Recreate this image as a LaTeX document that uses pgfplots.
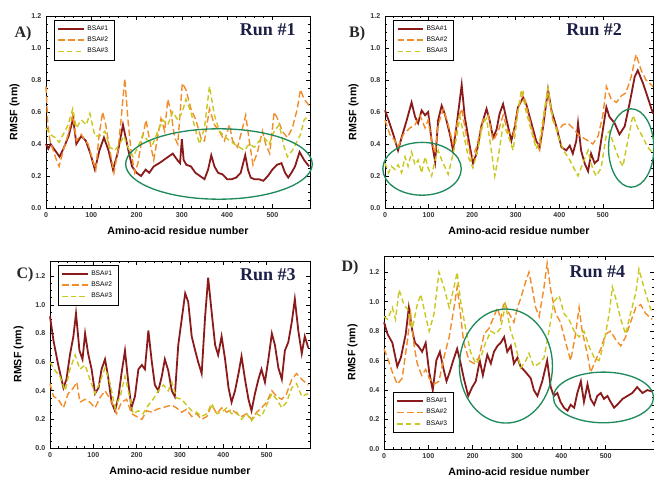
\documentclass[border=0pt]{standalone}
\usepackage{fontspec}
\setmainfont{Liberation Sans}
\newfontfamily\runfont{Liberation Serif}
\usepackage{pgfplots}
\pgfplotsset{compat=1.18}
\definecolor{bsaone}{HTML}{8B1A1A}
\definecolor{bsatwo}{HTML}{F28C28}
\definecolor{bsathree}{HTML}{C8C81E}
\definecolor{ring}{HTML}{1F8A5B}
\definecolor{runtxt}{HTML}{1B1F45}

\pgfplotsset{
  rmsf/.style={
    scale only axis, anchor=south west, xmin=0, ymin=0,
    xtick={0,100,200,300,400,500},
    ytick={0,0.2,0.4,0.6,0.8,1.0,1.2},
    minor x tick num=4, minor y tick num=3,
    tick align=inside, major tick length=3pt, minor tick length=1.5pt,
    tick style={black, line width=0.4pt},
    axis line style={line width=0.6pt},
    /pgf/number format/assume math mode=true,
    ticklabel style={font=\fontsize{5.3}{6}\selectfont\bfseries, text=black!80},
    yticklabel style={/pgf/number format/.cd, fixed, fixed zerofill, precision=1},
    xlabel={Amino-acid residue number},
    ylabel={RMSF (nm)},
    label style={font=\fontsize{8}{9}\selectfont\bfseries},
    ylabel style={yshift=2pt},
    clip=false,
    legend cell align=right,
    legend style={draw=black, line width=0.5pt, fill=white,
      font=\fontsize{5}{6}\selectfont, row sep=-0.5pt, inner xsep=2.5pt, inner ysep=2pt},
    legend image code/.code={\draw[##1] (0pt,0pt) -- (19pt,0pt);},
  },
  s1/.style={bsaone, line width=1.35pt},
  s2/.style={bsatwo, line width=1.05pt, dash pattern=on 5pt off 2.4pt},
  s3/.style={bsathree, line width=1.05pt, dash pattern=on 4pt off 2.4pt},
}
\tikzset{
  ringst/.style={ring, line width=1pt},
  runlbl/.style={font=\runfont\bfseries\fontsize{13.5}{14}\selectfont, text=runtxt},
  panlbl/.style={font=\runfont\bfseries\fontsize{12}{13}\selectfont, text=black!85},
}

\begin{document}
\begin{tikzpicture}
\useasboundingbox (0,0) rectangle (490.5pt,359.25pt);

% ---- A) Run #1
\begin{axis}[rmsf, at={(34.5pt,203.25pt)}, width=198pt, height=144pt,
  xmax=583, ymax=1.2, legend style={at={(0.03,0.98)}, anchor=north west}]
\addplot[s1] coordinates {(0,0.40) (5,0.37) (10,0.40) (20,0.36) (30,0.32) (40,0.38) (50,0.45) (60,0.56) (67,0.40) (78,0.45) (88,0.42) (98,0.34) (108,0.24) (118,0.36) (128,0.44) (138,0.36) (148,0.24) (158,0.34) (170,0.52) (176,0.44) (182,0.36) (190,0.26) (200,0.22) (210,0.20) (220,0.24) (228,0.22) (238,0.26) (250,0.28) (260,0.30) (270,0.32) (280,0.34) (290,0.30) (296,0.28) (300,0.43) (304,0.30) (310,0.27) (320,0.26) (330,0.22) (340,0.20) (350,0.18) (358,0.24) (365,0.33) (372,0.26) (380,0.22) (390,0.21) (400,0.18) (410,0.18) (420,0.19) (430,0.22) (440,0.33) (446,0.24) (452,0.19) (460,0.18) (470,0.18) (480,0.17) (490,0.20) (500,0.24) (510,0.27) (520,0.28) (528,0.22) (535,0.19) (542,0.22) (550,0.26) (560,0.35) (570,0.30) (581,0.26)};
\addlegendentry{BSA\#1}
\addplot[s2] coordinates {(0,0.76) (4,0.52) (9,0.42) (16,0.36) (23,0.30) (29,0.26) (38,0.36) (49,0.46) (59,0.58) (67,0.42) (78,0.46) (86,0.42) (93,0.40) (103,0.30) (110,0.24) (117,0.45) (125,0.60) (132,0.52) (141,0.36) (150,0.22) (159,0.36) (166,0.56) (174,0.81) (181,0.55) (188,0.35) (196,0.22) (203,0.28) (210,0.40) (221,0.55) (229,0.42) (238,0.30) (245,0.42) (254,0.56) (262,0.48) (269,0.68) (276,0.60) (284,0.44) (291,0.40) (301,0.78) (309,0.74) (320,0.62) (331,0.55) (342,0.44) (350,0.42) (361,0.62) (372,0.52) (383,0.48) (394,0.42) (405,0.52) (412,0.42) (423,0.38) (434,0.50) (441,0.58) (450,0.40) (457,0.27) (467,0.35) (478,0.48) (485,0.40) (494,0.34) (504,0.60) (511,0.56) (522,0.48) (533,0.44) (544,0.50) (555,0.62) (562,0.74) (570,0.68) (581,0.64)};
\addlegendentry{BSA\#2}
\addplot[s3] coordinates {(0,0.50) (9,0.46) (20,0.44) (29,0.41) (38,0.46) (49,0.52) (59,0.62) (67,0.50) (78,0.55) (89,0.52) (97,0.59) (108,0.45) (119,0.45) (130,0.48) (141,0.38) (152,0.36) (163,0.40) (172,0.45) (181,0.38) (192,0.32) (203,0.38) (214,0.46) (225,0.42) (236,0.40) (247,0.48) (258,0.55) (269,0.52) (280,0.60) (291,0.55) (301,0.60) (309,0.68) (320,0.60) (331,0.48) (339,0.40) (350,0.50) (361,0.76) (372,0.58) (383,0.48) (394,0.45) (405,0.42) (416,0.40) (427,0.38) (438,0.36) (449,0.40) (460,0.38) (471,0.42) (482,0.44) (493,0.40) (504,0.48) (515,0.52) (526,0.38) (533,0.32) (544,0.36) (555,0.42) (562,0.46) (570,0.55) (581,0.58)};
\addlegendentry{BSA\#3}
\draw[ringst] (axis cs:382,0.275) ellipse [x radius=206, y radius=0.22];
\node[runlbl] at (rel axis cs:0.84,0.927) {Run \#1};
\node[panlbl] at (rel axis cs:-0.087,0.91) {A)};
\end{axis}

% ---- B) Run #2
\begin{axis}[rmsf, at={(288.75pt,203.25pt)}, width=201pt, height=144pt,
  xmax=615, ymax=1.2, legend style={at={(0.03,0.98)}, anchor=north west}]
\addplot[s1] coordinates {(0,0.61) (8,0.55) (19,0.46) (30,0.36) (38,0.44) (50,0.55) (61,0.66) (69,0.57) (76,0.53) (84,0.61) (92,0.58) (99,0.60) (107,0.42) (115,0.29) (122,0.55) (130,0.64) (137,0.59) (149,0.46) (156,0.36) (164,0.51) (176,0.77) (183,0.57) (195,0.38) (202,0.28) (210,0.34) (221,0.51) (233,0.62) (240,0.55) (248,0.44) (256,0.49) (263,0.59) (271,0.65) (279,0.55) (290,0.42) (298,0.51) (305,0.63) (317,0.69) (324,0.65) (336,0.53) (347,0.42) (355,0.38) (363,0.51) (374,0.74) (382,0.61) (393,0.51) (405,0.38) (416,0.36) (424,0.39) (431,0.34) (439,0.42) (443,0.53) (450,0.36) (458,0.28) (466,0.23) (473,0.34) (481,0.28) (489,0.30) (496,0.42) (508,0.63) (515,0.57) (527,0.53) (538,0.46) (550,0.51) (561,0.65) (573,0.82) (580,0.86) (592,0.78) (603,0.69) (615,0.59)};
\addlegendentry{BSA\#1}
\addplot[s2] coordinates {(0,0.55) (11,0.46) (23,0.42) (30,0.38) (42,0.46) (57,0.50) (69,0.52) (80,0.58) (92,0.50) (99,0.55) (107,0.42) (115,0.34) (122,0.52) (134,0.62) (145,0.52) (156,0.40) (168,0.56) (176,0.62) (187,0.45) (198,0.30) (210,0.38) (225,0.55) (237,0.58) (248,0.42) (260,0.48) (271,0.58) (282,0.48) (294,0.45) (305,0.62) (317,0.72) (332,0.55) (344,0.42) (355,0.36) (366,0.58) (374,0.72) (385,0.55) (397,0.48) (408,0.52) (420,0.53) (431,0.50) (443,0.46) (454,0.44) (466,0.42) (477,0.40) (489,0.45) (500,0.58) (508,0.76) (519,0.68) (531,0.66) (542,0.70) (553,0.72) (565,0.82) (576,0.96) (588,0.86) (599,0.80) (615,0.76)};
\addlegendentry{BSA\#2}
\addplot[s3] coordinates {(0,0.28) (8,0.22) (15,0.26) (23,0.24) (30,0.27) (38,0.22) (46,0.32) (53,0.26) (61,0.35) (69,0.27) (76,0.30) (84,0.22) (92,0.32) (99,0.25) (107,0.20) (115,0.30) (122,0.36) (130,0.30) (137,0.26) (145,0.21) (153,0.30) (164,0.44) (172,0.57) (179,0.48) (191,0.32) (202,0.25) (214,0.38) (225,0.53) (233,0.56) (244,0.36) (252,0.20) (260,0.32) (271,0.52) (282,0.46) (294,0.36) (305,0.60) (313,0.74) (324,0.60) (336,0.48) (347,0.37) (355,0.42) (366,0.62) (374,0.75) (385,0.56) (401,0.42) (412,0.35) (424,0.30) (435,0.24) (443,0.20) (454,0.28) (466,0.36) (477,0.24) (485,0.20) (496,0.25) (508,0.46) (515,0.48) (527,0.38) (538,0.30) (546,0.26) (557,0.42) (569,0.58) (580,0.50) (592,0.44) (603,0.38) (615,0.34)};
\addlegendentry{BSA\#3}
\draw[ringst] (axis cs:85,0.245) ellipse [x radius=90, y radius=0.165];
\draw[ringst] (axis cs:565,0.375) ellipse [x radius=52, y radius=0.245];
\node[runlbl] at (rel axis cs:0.78,0.927) {Run \#2};
\node[panlbl] at (rel axis cs:-0.104,0.91) {B)};
\end{axis}

% ---- C) Run #3
\begin{axis}[rmsf, at={(37.5pt,23.25pt)}, width=195pt, height=140.25pt,
  xmax=600, ymax=1.306, legend style={at={(0.03,0.98)}, anchor=north west}]
\addplot[s1] coordinates {(0,0.92) (8,0.75) (19,0.58) (31,0.42) (38,0.48) (46,0.65) (54,0.78) (60,0.94) (68,0.68) (75,0.62) (81,0.80) (88,0.66) (96,0.55) (104,0.38) (112,0.42) (119,0.55) (127,0.62) (135,0.48) (142,0.32) (150,0.26) (158,0.36) (165,0.52) (173,0.68) (181,0.45) (188,0.28) (196,0.36) (204,0.55) (212,0.58) (219,0.55) (227,0.82) (235,0.60) (242,0.44) (250,0.40) (258,0.50) (265,0.62) (273,0.54) (281,0.40) (288,0.36) (296,0.72) (304,0.90) (312,1.08) (319,1.02) (327,0.78) (335,0.68) (342,0.60) (350,0.52) (358,0.92) (365,1.19) (373,0.95) (381,0.72) (388,0.65) (396,0.78) (404,0.62) (412,0.42) (419,0.32) (427,0.40) (435,0.52) (442,0.64) (450,0.48) (458,0.34) (465,0.26) (473,0.38) (481,0.48) (488,0.55) (496,0.46) (504,0.62) (512,0.80) (519,0.72) (527,0.56) (535,0.48) (542,0.68) (550,0.74) (558,0.88) (565,1.04) (573,0.82) (581,0.66) (588,0.78) (596,0.70)};
\addlegendentry{BSA\#1}
\addplot[s2] coordinates {(0,0.45) (8,0.36) (19,0.34) (31,0.28) (42,0.38) (54,0.42) (62,0.46) (69,0.32) (81,0.34) (92,0.32) (104,0.28) (115,0.35) (127,0.40) (135,0.36) (146,0.30) (154,0.24) (165,0.32) (177,0.34) (188,0.24) (200,0.22) (212,0.20) (223,0.26) (235,0.25) (246,0.27) (258,0.28) (269,0.29) (281,0.30) (292,0.28) (304,0.25) (315,0.27) (327,0.22) (338,0.24) (350,0.20) (362,0.22) (373,0.30) (385,0.24) (396,0.28) (408,0.25) (419,0.27) (431,0.24) (442,0.22) (454,0.24) (465,0.20) (477,0.25) (488,0.28) (500,0.32) (512,0.40) (523,0.36) (535,0.34) (546,0.38) (558,0.48) (569,0.52) (581,0.48) (596,0.44)};
\addlegendentry{BSA\#2}
\addplot[s3] coordinates {(0,0.60) (12,0.54) (23,0.50) (35,0.40) (46,0.55) (58,0.65) (69,0.55) (81,0.58) (92,0.48) (104,0.38) (115,0.46) (127,0.56) (138,0.46) (150,0.28) (162,0.36) (173,0.50) (185,0.34) (192,0.24) (204,0.26) (215,0.24) (227,0.30) (238,0.34) (250,0.40) (262,0.44) (273,0.40) (281,0.46) (292,0.35) (304,0.34) (315,0.30) (327,0.26) (338,0.25) (350,0.22) (362,0.24) (373,0.31) (385,0.24) (396,0.25) (408,0.28) (419,0.24) (431,0.25) (442,0.20) (454,0.24) (465,0.19) (477,0.24) (488,0.22) (500,0.30) (512,0.38) (523,0.34) (535,0.28) (546,0.32) (558,0.42) (569,0.45) (581,0.36) (596,0.38)};
\addlegendentry{BSA\#3}
\node[runlbl] at (rel axis cs:0.838,0.925) {Run \#3};
\node[panlbl] at (rel axis cs:-0.096,0.925) {C)};
\end{axis}

% ---- D) Run #4
\begin{axis}[rmsf, at={(288pt,22.5pt)}, width=202.5pt, height=144.75pt,
  xmax=609, ymax=1.31, legend style={at={(0.033,0.083)}, anchor=south west}]
\addplot[s1] coordinates {(0,0.86) (8,0.78) (19,0.72) (30,0.56) (38,0.62) (49,0.78) (56,0.96) (64,0.80) (70,0.72) (77,0.70) (86,0.66) (94,0.72) (102,0.52) (110,0.40) (118,0.60) (126,0.66) (133,0.56) (141,0.46) (148,0.52) (156,0.60) (165,0.68) (173,0.58) (180,0.48) (190,0.36) (199,0.42) (207,0.46) (216,0.60) (223,0.50) (233,0.64) (241,0.58) (248,0.66) (256,0.70) (263,0.72) (271,0.76) (278,0.66) (286,0.70) (293,0.58) (301,0.62) (308,0.56) (320,0.52) (331,0.48) (338,0.40) (346,0.36) (357,0.46) (368,0.60) (376,0.42) (383,0.36) (391,0.38) (398,0.32) (406,0.28) (414,0.26) (421,0.30) (429,0.28) (436,0.38) (444,0.46) (451,0.32) (459,0.44) (466,0.34) (474,0.30) (481,0.36) (489,0.38) (496,0.34) (504,0.36) (511,0.32) (519,0.28) (526,0.30) (538,0.34) (549,0.36) (560,0.38) (571,0.42) (583,0.38) (594,0.40) (605,0.39)};
\addlegendentry{BSA\#1}
\addplot[s2] coordinates {(0,0.68) (8,0.62) (19,0.52) (30,0.44) (41,0.48) (53,0.74) (60,0.92) (68,0.70) (75,0.58) (85,0.50) (94,0.54) (102,0.48) (113,0.44) (124,0.46) (135,0.62) (147,0.76) (158,0.96) (165,1.10) (173,0.90) (180,0.72) (192,0.60) (203,0.58) (214,0.62) (226,0.78) (237,0.82) (248,0.90) (256,0.96) (263,0.88) (271,1.00) (282,0.92) (293,0.86) (301,0.96) (308,1.02) (320,1.14) (327,1.20) (335,1.08) (342,0.96) (350,0.90) (361,1.10) (368,1.26) (376,1.08) (387,0.92) (398,0.86) (410,0.72) (421,0.60) (432,0.78) (440,0.96) (447,0.80) (459,0.64) (466,0.52) (477,0.60) (489,0.68) (500,0.78) (511,0.80) (523,0.74) (534,0.70) (545,0.76) (556,0.86) (568,0.96) (579,0.98) (590,0.92) (605,0.88)};
\addlegendentry{BSA\#2}
\addplot[s3] coordinates {(0,0.90) (8,0.88) (19,0.96) (26,0.88) (34,1.08) (45,0.98) (53,0.95) (64,0.82) (75,0.98) (83,1.05) (94,0.90) (102,0.80) (113,0.92) (124,1.20) (135,1.10) (147,0.96) (158,1.10) (165,1.20) (173,1.00) (184,0.82) (195,0.66) (207,0.58) (218,0.62) (229,0.72) (241,0.80) (252,0.78) (263,0.82) (274,0.98) (286,0.80) (297,0.70) (308,0.55) (320,0.60) (327,0.65) (338,0.56) (350,0.58) (361,0.62) (372,0.80) (383,1.00) (395,1.04) (406,0.92) (417,0.88) (429,0.80) (440,0.76) (451,0.80) (462,0.70) (474,0.62) (485,0.60) (496,0.72) (508,0.92) (515,1.10) (523,1.02) (534,0.88) (545,0.78) (556,0.92) (568,1.06) (575,1.22) (586,1.10) (598,0.98) (605,0.92)};
\addlegendentry{BSA\#3}
\draw[ringst] (axis cs:275,0.563) ellipse [x radius=105, y radius=0.387];
\draw[ringst] (axis cs:495,0.35) ellipse [x radius=113, y radius=0.172];
\node[runlbl] at (rel axis cs:0.79,0.917) {Run \#4};
\node[panlbl] at (rel axis cs:-0.126,0.938) {D)};
\end{axis}
\end{tikzpicture}
\end{document}
